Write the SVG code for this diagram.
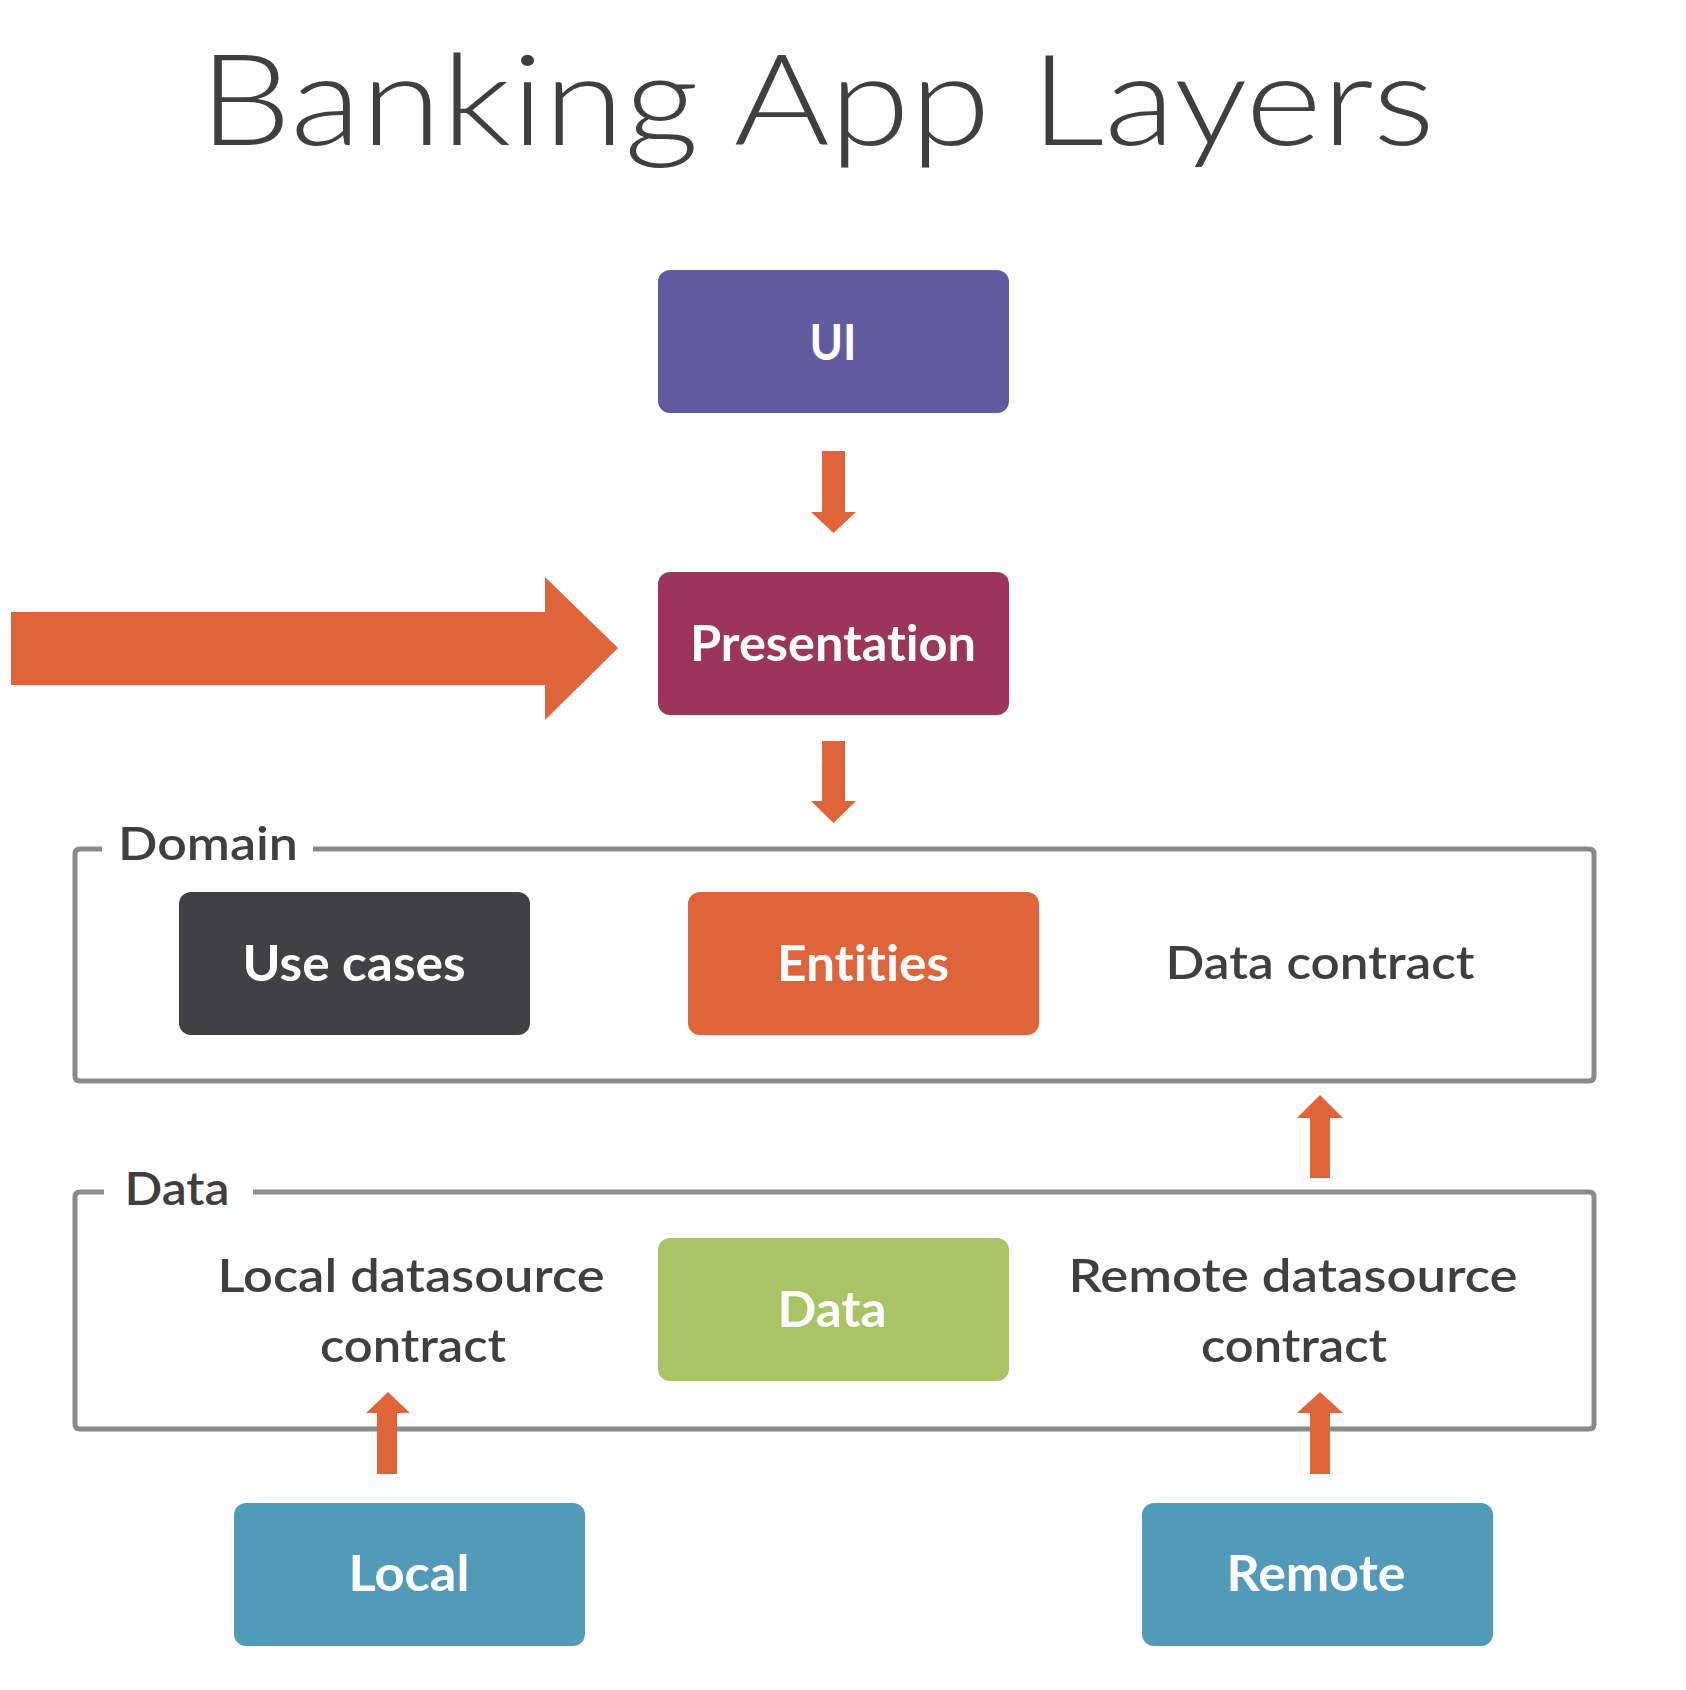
<svg xmlns="http://www.w3.org/2000/svg" width="1686" height="1690" viewBox="0 0 1686 1690">
<style>
.bg{fill:#ffffff}
text{font-variant-ligatures:none;font-feature-settings:"liga" 0}
.box text,.lbl{font-family:Lato,"Noto Sans","DejaVu Sans",sans-serif;text-anchor:middle}
.box text{fill:#ffffff;font-weight:700;font-size:50px}
.lbl{fill:#3f3f3f;font-weight:600;font-size:46px}
.arrow{fill:#e0643a}
.frame{fill:none;stroke:#8a8a8a;stroke-width:5;stroke-linejoin:round}
.title{font-family:Lato,"Noto Sans","DejaVu Sans",sans-serif;font-weight:300;font-size:126px;fill:#3f3f3f;text-anchor:middle}
</style>
<rect class="bg" x="0" y="0" width="1686" height="1690"/>
<text class="title" x="817" y="145" textLength="1236" lengthAdjust="spacingAndGlyphs">Banking App Layers</text>

<g id="domain-layer">
<path class="frame" d="M102 849 H80 Q75 849 75 854 V1076 Q75 1081 80 1081 H1589 Q1594 1081 1594 1076 V854 Q1594 849 1589 849 H313"/>
<text class="lbl" x="208" y="860" textLength="180" lengthAdjust="spacingAndGlyphs">Domain</text>
</g>
<g id="data-layer">
<path class="frame" d="M104 1192 H80 Q75 1192 75 1197 V1424 Q75 1429 80 1429 H1589 Q1594 1429 1594 1424 V1197 Q1594 1192 1589 1192 H253"/>
<text class="lbl" x="177" y="1205" textLength="105" lengthAdjust="spacingAndGlyphs">Data</text>
</g>

<g id="connectors">
<path class="arrow" d="M822 451 H845 V512 H856 L833.5 533 L811 512 H822 Z"/>
<path class="arrow" d="M822 741 H845 V801 H856 L833.5 823 L811 801 H822 Z"/>
<path class="arrow" d="M11 612 H545 V577 L618 648 L545 720 V685 H11 Z"/>
<path class="arrow" d="M1310 1178 V1118 H1297 L1320 1095 L1343 1118 H1330 V1178 Z"/>
<path class="arrow" d="M377 1474 V1413 H366 L388 1392 L410 1413 H397 V1474 Z"/>
<path class="arrow" d="M1310 1474 V1413 H1297 L1320 1392 L1343 1413 H1330 V1474 Z"/>
</g>

<g id="ui" class="box">
<rect x="658" y="270" width="351" height="143" rx="12" fill="#625a9f"/>
<text x="833" y="360" textLength="47" lengthAdjust="spacingAndGlyphs">UI</text>
</g>
<g id="presentation" class="box">
<rect x="658" y="572" width="351" height="143" rx="12" fill="#9b3559"/>
<text x="833" y="661" textLength="286" lengthAdjust="spacingAndGlyphs">Presentation</text>
</g>
<g id="use-cases" class="box">
<rect x="179" y="892" width="351" height="143" rx="12" fill="#414042"/>
<text x="354" y="981" textLength="223" lengthAdjust="spacingAndGlyphs">Use cases</text>
</g>
<g id="entities" class="box">
<rect x="688" y="892" width="351" height="143" rx="12" fill="#e0643a"/>
<text x="863" y="981" textLength="172" lengthAdjust="spacingAndGlyphs">Entities</text>
</g>
<g id="data-contract">
<text class="lbl" x="1320" y="979" textLength="309" lengthAdjust="spacingAndGlyphs">Data contract</text>
</g>
<g id="local-datasource-contract">
<text class="lbl" x="411" y="1292" textLength="387" lengthAdjust="spacingAndGlyphs">Local datasource</text>
<text class="lbl" x="413" y="1362" textLength="186" lengthAdjust="spacingAndGlyphs">contract</text>
</g>
<g id="data" class="box">
<rect x="658" y="1238" width="351" height="143" rx="12" fill="#a8c465"/>
<text x="832" y="1327" textLength="109" lengthAdjust="spacingAndGlyphs">Data</text>
</g>
<g id="remote-datasource-contract">
<text class="lbl" x="1293" y="1292" textLength="449" lengthAdjust="spacingAndGlyphs">Remote datasource</text>
<text class="lbl" x="1294" y="1362" textLength="186" lengthAdjust="spacingAndGlyphs">contract</text>
</g>
<g id="local" class="box">
<rect x="234" y="1503" width="351" height="143" rx="12" fill="#529bb8"/>
<text x="409" y="1591" textLength="121" lengthAdjust="spacingAndGlyphs">Local</text>
</g>
<g id="remote" class="box">
<rect x="1142" y="1503" width="351" height="143" rx="12" fill="#529bb8"/>
<text x="1316" y="1591" textLength="179" lengthAdjust="spacingAndGlyphs">Remote</text>
</g>
</svg>
